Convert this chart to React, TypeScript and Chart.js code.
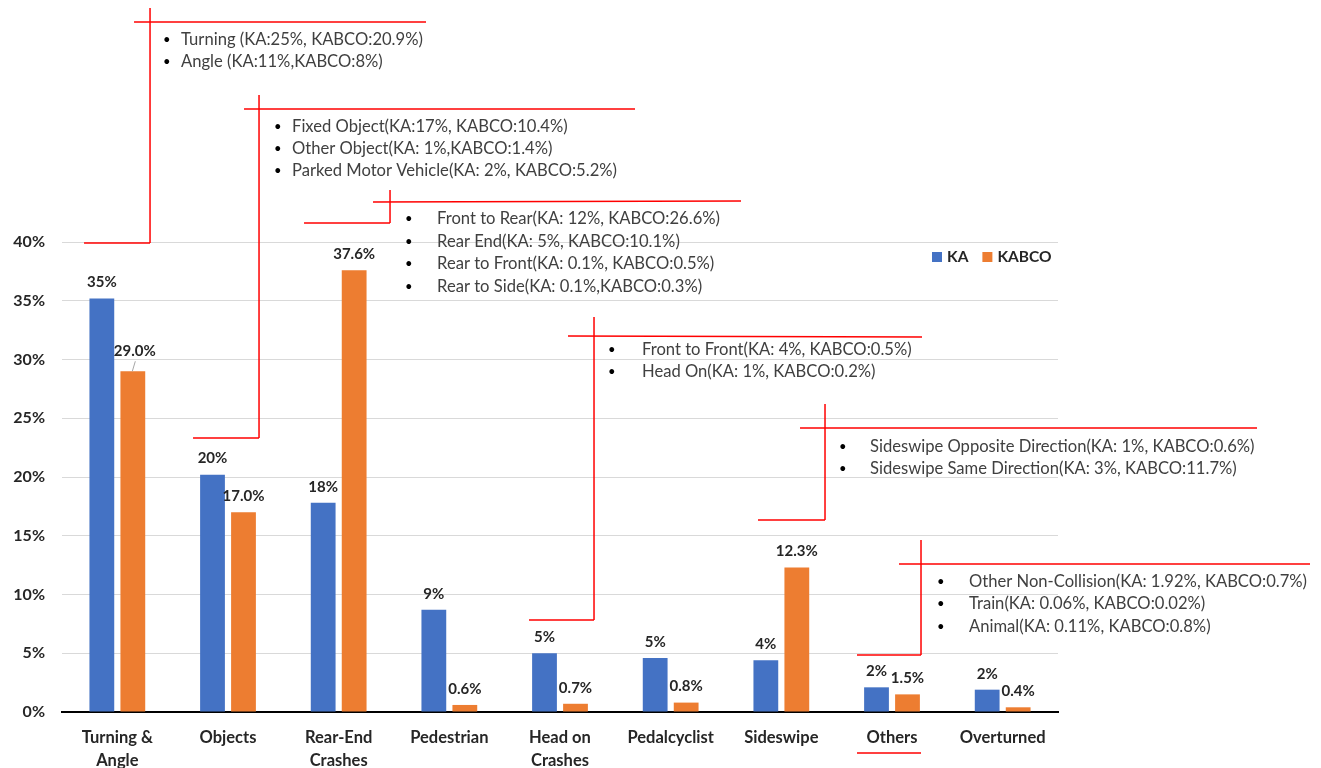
import React, { useEffect, useRef } from "react";
import { Chart, registerables } from "chart.js";

Chart.register(...registerables);

// ---------- data ----------
const categories: (string | string[])[] = [
  ["Turning &", "Angle"],
  "Objects",
  ["Rear-End", "Crashes"],
  "Pedestrian",
  ["Head on", "Crashes"],
  "Pedalcyclist",
  "Sideswipe",
  "Others",
  "Overturned",
];
const kaValues = [35.2, 20.2, 17.8, 8.7, 5.0, 4.6, 4.4, 2.1, 1.9];
const kabcoValues = [29.0, 17.0, 37.6, 0.6, 0.7, 0.8, 12.3, 1.5, 0.4];
const kaLabels = ["35%", "20%", "18%", "9%", "5%", "5%", "4%", "2%", "2%"];
const kabcoLabels = ["29.0%", "17.0%", "37.6%", "0.6%", "0.7%", "0.8%", "12.3%", "1.5%", "0.4%"];
const seriesNames = ["KA", "KABCO"];
const yMin = 0;
const yMax = 40;
const yStep = 5;

const turningNotes = ["Turning (KA:25%, KABCO:20.9%)", "Angle (KA:11%,KABCO:8%)"];
const objectNotes = [
  "Fixed Object(KA:17%, KABCO:10.4%)",
  "Other Object(KA: 1%,KABCO:1.4%)",
  "Parked Motor Vehicle(KA: 2%, KABCO:5.2%)",
];
const rearEndNotes = [
  "Front to Rear(KA: 12%, KABCO:26.6%)",
  "Rear End(KA: 5%, KABCO:10.1%)",
  "Rear to Front(KA: 0.1%, KABCO:0.5%)",
  "Rear to Side(KA: 0.1%,KABCO:0.3%)",
];
const headOnNotes = ["Front to Front(KA: 4%, KABCO:0.5%)", "Head On(KA: 1%, KABCO:0.2%)"];
const sideswipeNotes = [
  "Sideswipe Opposite Direction(KA: 1%, KABCO:0.6%)",
  "Sideswipe Same Direction(KA: 3%, KABCO:11.7%)",
];
const otherNotes = [
  "Other Non-Collision(KA: 1.92%, KABCO:0.7%)",
  "Train(KA: 0.06%, KABCO:0.02%)",
  "Animal(KA: 0.11%, KABCO:0.8%)",
];

// ---------- styles / layout ----------
const BLUE = "#4472C4";
const ORANGE = "#ED7D31";
const RED = "#FF0000";
const TEXT = "#262626";
const NOTE = "#404040";
const FONT = "Lato, 'Open Sans', sans-serif";

// callout geometry in reference-frame pixels (mapped through the scales)
type Callout = {
  lines: number[][];
  bulletX: number;
  textX: number;
  rowY: number[];
  notes: string[];
};
const callouts: Callout[] = [
  { lines: [[150, 8, 150, 243], [84, 243, 150, 243], [134, 22, 426, 22]], bulletX: 163, textX: 181, rowY: [40, 62], notes: turningNotes },
  { lines: [[259, 95, 259, 438], [193, 438, 259, 438], [244, 109, 635, 109]], bulletX: 274, textX: 292, rowY: [127, 149, 171], notes: objectNotes },
  { lines: [[390, 190, 390, 223], [304, 223, 390, 223], [373, 202, 741, 201]], bulletX: 405, textX: 437, rowY: [219, 242, 264, 287], notes: rearEndNotes },
  { lines: [[594, 317, 594, 620], [529, 620, 594, 620], [568, 336, 922, 337]], bulletX: 608, textX: 642, rowY: [350, 372], notes: headOnNotes },
  { lines: [[825, 404, 825, 520], [758, 520, 825, 520], [800, 428, 1257, 428]], bulletX: 839, textX: 870, rowY: [447, 469], notes: sideswipeNotes },
  { lines: [[921, 540, 921, 655], [857, 655, 921, 655], [899, 564, 1310, 564], [857, 753, 921, 753]], bulletX: 937, textX: 969, rowY: [582, 604, 627], notes: otherNotes },
];

const REF = { zeroY: 712, pxPerUnit: 11.75, firstCenter: 117.3, catW: 110.67 };

const overlayPlugin = {
  id: "overlay",
  afterDraw(chart: any) {
    const ctx = chart.ctx as CanvasRenderingContext2D;
    const xs = chart.scales.x;
    const ys = chart.scales.y;
    const x0 = xs.getPixelForValue(0);
    const step = xs.getPixelForValue(1) - x0;
    const mapX = (px: number) => x0 + ((px - REF.firstCenter) / REF.catW) * step;
    const mapY = (py: number) => ys.getPixelForValue((REF.zeroY - py) / REF.pxPerUnit);

    // data labels
    ctx.save();
    ctx.font = `bold 15px ${FONT}`;
    ctx.fillStyle = TEXT;
    ctx.textAlign = "center";
    ctx.textBaseline = "middle";
    const labelSets = [kaLabels, kabcoLabels];
    chart.data.datasets.forEach((_: any, di: number) => {
      const meta = chart.getDatasetMeta(di);
      meta.data.forEach((bar: any, i: number) => {
        let lx = bar.x;
        let ly = bar.y - 16;
        if (di === 1 && i === 0) {
          lx = bar.x + 2;
          ly = bar.y - 20;
          ctx.save();
          ctx.strokeStyle = "#A6A6A6";
          ctx.lineWidth = 1;
          ctx.beginPath();
          ctx.moveTo(bar.x - 0.5, bar.y);
          ctx.lineTo(bar.x + 2.5, bar.y - 10);
          ctx.stroke();
          ctx.restore();
        }
        ctx.fillText(labelSets[di][i], lx, ly);
      });
    });
    ctx.restore();

    // legend
    ctx.save();
    const ca = chart.chartArea;
    const legY = ys.getPixelForValue(yMax) + 15;
    let lx = ca.right - 126;
    ctx.font = `bold 15.5px ${FONT}`;
    ctx.textBaseline = "middle";
    ctx.textAlign = "left";
    [BLUE, ORANGE].forEach((c, k) => {
      ctx.fillStyle = c;
      ctx.fillRect(lx, legY - 5, 10, 10);
      ctx.fillStyle = TEXT;
      ctx.fillText(seriesNames[k], lx + 15, legY);
      lx += 15 + ctx.measureText(seriesNames[k]).width + 14;
    });
    ctx.restore();

    // callouts
    ctx.save();
    ctx.strokeStyle = RED;
    ctx.lineWidth = 1.5;
    callouts.forEach((c) => {
      c.lines.forEach(([xa, ya, xb, yb]) => {
        ctx.beginPath();
        ctx.moveTo(mapX(xa), mapY(ya));
        ctx.lineTo(mapX(xb), mapY(yb));
        ctx.stroke();
      });
      ctx.textBaseline = "middle";
      ctx.textAlign = "left";
      c.notes.forEach((t, k) => {
        const y = mapY(c.rowY[k]);
        ctx.font = `13px ${FONT}`;
        ctx.fillStyle = "#000";
        ctx.fillText("•", mapX(c.bulletX), y);
        ctx.font = `16.6px ${FONT}`;
        ctx.fillStyle = NOTE;
        ctx.fillText(t, mapX(c.textX), y);
      });
    });
    ctx.restore();
  },
};

export default function App() {
  const canvasRef = useRef<HTMLCanvasElement | null>(null);

  useEffect(() => {
    if (!canvasRef.current) return;
    const chart = new Chart(canvasRef.current, {
      type: "bar",
      data: {
        labels: categories as any,
        datasets: [
          { label: seriesNames[0], data: kaValues, backgroundColor: BLUE, barPercentage: 0.8, categoryPercentage: 0.56 },
          { label: seriesNames[1], data: kabcoValues, backgroundColor: ORANGE, barPercentage: 0.8, categoryPercentage: 0.56 },
        ],
      },
      options: {
        animation: false,
        responsive: false,
        devicePixelRatio: 1,
        layout: { padding: { top: 242, right: 263, bottom: 0, left: 0 } },
        plugins: { legend: { display: false }, tooltip: { enabled: false } },
        scales: {
          x: {
            grid: { display: false, drawTicks: false },
            border: { display: true, color: "#000", width: 2 },
            ticks: {
              maxRotation: 0,
              autoSkip: false,
              padding: 14,
              color: TEXT,
              font: { family: FONT, size: 16.5, weight: "bold", lineHeight: 1.4 },
            },
            afterFit: (s: any) => {
              s.height = 56;
            },
          },
          y: {
            min: yMin,
            max: yMax,
            grid: { color: "#D9D9D9", lineWidth: 1, drawTicks: false },
            border: { display: false },
            ticks: {
              stepSize: yStep,
              padding: 17,
              color: TEXT,
              font: { family: FONT, size: 16, weight: "bold" },
              callback: (v: any) => `${v}%`,
            },
            afterFit: (s: any) => {
              s.width = 62;
            },
          },
        },
      },
      plugins: [overlayPlugin],
    });
    return () => chart.destroy();
  }, []);

  return (
    <div style={{ position: "fixed", left: 0, top: 0, width: 1321, height: 768, background: "#fff" }}>
      <canvas ref={canvasRef} width={1321} height={768} style={{ width: 1321, height: 768, display: "block" }} />
    </div>
  );
}
